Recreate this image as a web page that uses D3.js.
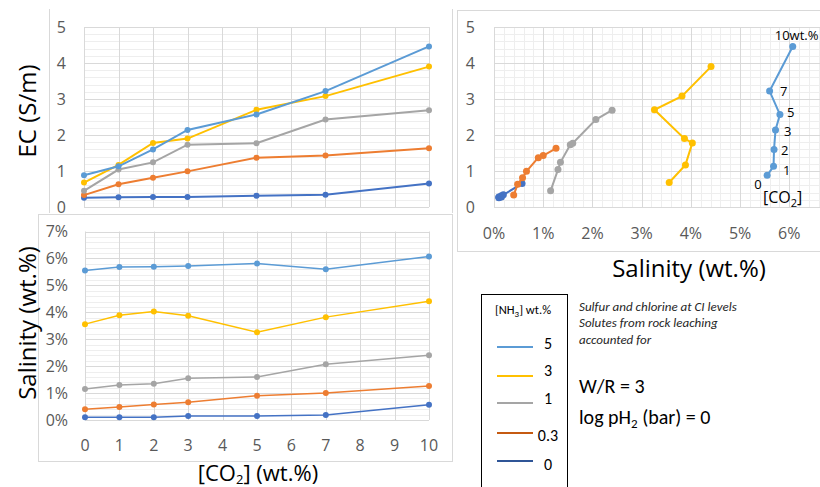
<!DOCTYPE html>
<html>
<head>
<meta charset="utf-8">
<script src="https://cdn.jsdelivr.net/npm/d3@7"></script>
<style>
body{margin:0;background:#fff;}
svg{display:block;font-family:"Open Sans","Noto Sans","DejaVu Sans",sans-serif;}
.cal{font-family:Calibri,Carlito,"Liberation Sans",sans-serif;}
</style>
</head>
<body>
<svg id="c" width="820" height="487"></svg>
<script>
// ---- data ----
const co2 = [0, 1, 2, 3, 5, 7, 10];
const nh3Levels = ["5", "3", "1", "0.3", "0"];
const colors = ["#5B9BD5", "#FFC000", "#A5A5A5", "#ED7D31", "#4472C4"];
const legendColors = ["#5B9BD5", "#FFC000", "#A5A5A5", "#C55A11", "#2F5597"];
// EC (S/m) per NH3 level
const ec5   = [0.88, 1.13, 1.60, 2.14, 2.57, 3.22, 4.46];
const ec3   = [0.68, 1.17, 1.78, 1.90, 2.70, 3.08, 3.90];
const ec1   = [0.45, 1.04, 1.24, 1.73, 1.77, 2.43, 2.69];
const ec03  = [0.33, 0.63, 0.81, 0.99, 1.37, 1.43, 1.63];
const ec0   = [0.26, 0.27, 0.28, 0.28, 0.31, 0.34, 0.65];
// Salinity (wt.%) per NH3 level
const sal5  = [5.55, 5.68, 5.69, 5.72, 5.81, 5.60, 6.07];
const sal3  = [3.56, 3.89, 4.03, 3.87, 3.26, 3.82, 4.41];
const sal1  = [1.15, 1.30, 1.35, 1.55, 1.60, 2.07, 2.40];
const sal03 = [0.40, 0.48, 0.58, 0.66, 0.90, 1.00, 1.26];
const sal0  = [0.10, 0.10, 0.10, 0.15, 0.15, 0.19, 0.57];
const ecSeries = [ec5, ec3, ec1, ec03, ec0];
const salSeries = [sal5, sal3, sal1, sal03, sal0];
const co2Labels = ["0", "1", "2", "3", "5", "7", "10wt.%"];
const ecTicks = [0, 1, 2, 3, 4, 5];
const salTicks = [0, 1, 2, 3, 4, 5, 6, 7];
const co2Ticks = [0, 1, 2, 3, 4, 5, 6, 7, 8, 9, 10];
const scatterXTicks = [0, 1, 2, 3, 4, 5, 6, 7];

const svg = d3.select("#c");
const GRID = "#d9d9d9", MINOR = "#eeeeee", TICKC = "#595959";

// ---- frames ----
svg.append("rect").attr("x", 38.5).attr("y", 214.5).attr("width", 414).attr("height", 247)
  .attr("fill", "#fff").attr("stroke", "#d9d9d9");
svg.append("rect").attr("x", 49.5).attr("y", 8).attr("width", 403).attr("height", 205).attr("fill", "#fff");
svg.append("line").attr("x1", 49.5).attr("x2", 49.5).attr("y1", 9).attr("y2", 213).attr("stroke", "#d9d9d9");
svg.append("line").attr("x1", 452.5).attr("x2", 452.5).attr("y1", 9).attr("y2", 213).attr("stroke", "#d9d9d9");
svg.append("rect").attr("x", 457.5).attr("y", 10.5).attr("width", 400).attr("height", 241)
  .attr("fill", "#fff").attr("stroke", "#d9d9d9");

// ---- helper for gridlines ----
function grid(g, x, y, xMajor, xMinor, yMajor, yMinor) {
  const [x0, x1] = x.range(), [y0, y1] = y.range();
  g.selectAll(null).data(yMinor).join("line").attr("x1", x0).attr("x2", x1)
    .attr("y1", d => Math.round(y(d)) + 0.5).attr("y2", d => Math.round(y(d)) + 0.5).attr("stroke", MINOR);
  g.selectAll(null).data(xMinor).join("line").attr("y1", y0).attr("y2", y1)
    .attr("x1", d => Math.round(x(d)) + 0.5).attr("x2", d => Math.round(x(d)) + 0.5).attr("stroke", MINOR);
  g.selectAll(null).data(yMajor).join("line").attr("x1", x0).attr("x2", x1)
    .attr("y1", d => Math.round(y(d)) + 0.5).attr("y2", d => Math.round(y(d)) + 0.5).attr("stroke", GRID);
  g.selectAll(null).data(xMajor).join("line").attr("y1", y0).attr("y2", y1)
    .attr("x1", d => Math.round(x(d)) + 0.5).attr("x2", d => Math.round(x(d)) + 0.5).attr("stroke", GRID);
}
function range(a, b, s) { const r = []; for (let v = a; v <= b + 1e-9; v += s) r.push(+v.toFixed(4)); return r; }

// ---- top-left: EC vs CO2 ----
{
  const x = d3.scaleLinear().domain([0, 10]).range([84, 429]);
  const y = d3.scaleLinear().domain([0, 5]).range([207, 27]);
  const g = svg.append("g");
  grid(g, x, y, co2Ticks, [], ecTicks, range(0, 5, 0.2));
  g.selectAll(null).data(ecTicks).join("text").attr("x", 66).attr("y", d => y(d))
    .attr("dy", "0.36em").attr("text-anchor", "end").attr("fill", TICKC).attr("font-size", 16).text(d => d);
  const line = d3.line().x((d, i) => x(co2[i])).y(d => y(d));
  ecSeries.slice().reverse().forEach((s, k) => {
    const i = ecSeries.length - 1 - k;
    g.append("path").attr("d", line(s)).attr("fill", "none").attr("stroke", colors[i]).attr("stroke-width", 2);
    g.selectAll(null).data(s).join("circle").attr("cx", (d, j) => x(co2[j])).attr("cy", d => y(d))
      .attr("r", 3).attr("fill", colors[i]);
  });
  svg.append("text").attr("transform", "translate(36,111) rotate(-90)").attr("text-anchor", "middle")
    .attr("font-size", 24).attr("fill", "#000").text("EC (S/m)");
}

// ---- bottom-left: Salinity vs CO2 ----
{
  const x = d3.scaleLinear().domain([0, 10]).range([85, 429]);
  const y = d3.scaleLinear().domain([0, 7]).range([420, 231.5]);
  const g = svg.append("g");
  grid(g, x, y, co2Ticks, [], salTicks, range(0, 7, 0.2));
  g.selectAll(null).data(salTicks).join("text").attr("x", 68).attr("y", d => y(d))
    .attr("dy", "0.36em").attr("text-anchor", "end").attr("fill", TICKC).attr("font-size", 16).text(d => d + "%");
  g.selectAll(null).data(co2Ticks).join("text").attr("x", d => x(d)).attr("y", 445)
    .attr("dy", "0.36em").attr("text-anchor", "middle").attr("fill", TICKC).attr("font-size", 16).text(d => d);
  const line = d3.line().x((d, i) => x(co2[i])).y(d => y(d));
  salSeries.slice().reverse().forEach((s, k) => {
    const i = salSeries.length - 1 - k;
    g.append("path").attr("d", line(s)).attr("fill", "none").attr("stroke", colors[i]).attr("stroke-width", 1.5);
    g.selectAll(null).data(s).join("circle").attr("cx", (d, j) => x(co2[j])).attr("cy", d => y(d))
      .attr("r", 3).attr("fill", colors[i]);
  });
  svg.append("text").attr("transform", "translate(36,323) rotate(-90)").attr("text-anchor", "middle")
    .attr("font-size", 24).attr("fill", "#000").text("Salinity (wt.%)");
  const t = svg.append("text").attr("x", 258).attr("y", 481).attr("text-anchor", "middle")
    .attr("font-size", 22).attr("fill", "#000");
  t.append("tspan").text("[CO");
  t.append("tspan").attr("font-size", 13).attr("dy", 3).text("2");
  t.append("tspan").attr("dy", -3).text("] (wt.%)");
}

// ---- top-right: EC vs Salinity ----
{
  const x = d3.scaleLinear().domain([0, 7]).range([494, 838.5]);
  const y = d3.scaleLinear().domain([0, 5]).range([207, 27]);
  const g = svg.append("g");
  grid(g, x, y, scatterXTicks, range(0, 7, 0.2), ecTicks, range(0, 5, 0.2));
  g.selectAll(null).data(ecTicks).join("text").attr("x", 475).attr("y", d => y(d))
    .attr("dy", "0.36em").attr("text-anchor", "end").attr("fill", TICKC).attr("font-size", 16).text(d => d);
  g.selectAll(null).data(scatterXTicks.slice(0, 7)).join("text").attr("x", d => x(d)).attr("y", 233)
    .attr("dy", "0.36em").attr("text-anchor", "middle").attr("fill", TICKC).attr("font-size", 16).text(d => d + "%");
  salSeries.slice().reverse().forEach((s, k) => {
    const i = salSeries.length - 1 - k;
    const pts = s.map((v, j) => [v, ecSeries[i][j]]);
    const line = d3.line().x(d => x(d[0])).y(d => y(d[1]));
    g.append("path").attr("d", line(pts)).attr("fill", "none").attr("stroke", colors[i]).attr("stroke-width", 2);
    g.selectAll(null).data(pts).join("circle").attr("cx", d => x(d[0])).attr("cy", d => y(d[1]))
      .attr("r", 3.5).attr("fill", colors[i]);
  });
  // CO2 annotations next to the 5 wt.% NH3 series
  const offs = [[-13, 9], [9.5, 4], [7, 1], [8.5, 1], [7, -2.5], [10.5, 0], [-18, -11]];
  g.selectAll(null).data(co2Labels).join("text")
    .attr("x", (d, j) => x(sal5[j]) + offs[j][0]).attr("y", (d, j) => y(ec5[j]) + offs[j][1])
    .attr("dy", "0.36em").attr("font-size", 13).attr("fill", "#000").text(d => d);
  const c = g.append("text").attr("x", 763).attr("y", 203).attr("font-size", 16).attr("fill", "#000");
  c.append("tspan").text("[CO");
  c.append("tspan").attr("font-size", 11).attr("dy", 4).text("2");
  c.append("tspan").attr("dy", -4).text("]");
  svg.append("text").attr("x", 689).attr("y", 277).attr("text-anchor", "middle")
    .attr("font-size", 24).attr("fill", "#000").text("Salinity (wt.%)");
}

// ---- legend ----
{
  const g = svg.append("g").attr("class", "cal");
  g.append("rect").attr("x", 481.5).attr("y", 294.5).attr("width", 86).attr("height", 200)
    .attr("fill", "#fff").attr("stroke", "#000").attr("stroke-width", 1);
  const t = g.append("text").attr("x", 523).attr("y", 314).attr("text-anchor", "middle").attr("font-size", 12.5).attr("fill", "#000");
  t.append("tspan").text("[NH");
  t.append("tspan").attr("font-size", 9).attr("dy", 3).text("3");
  t.append("tspan").attr("dy", -3).text("] wt.%");
  const lineY = [347, 376, 403, 433, 461];
  const textY = [343, 370, 398, 435, 464];
  nh3Levels.forEach((lv, i) => {
    g.append("line").attr("x1", 497).attr("x2", 533).attr("y1", lineY[i]).attr("y2", lineY[i])
      .attr("stroke", legendColors[i]).attr("stroke-width", 1.8);
    g.append("text").attr("x", 548).attr("y", textY[i]).attr("dy", "0.35em")
      .attr("text-anchor", "middle").attr("font-size", 16).attr("fill", "#000").text(lv);
  });
}

// ---- notes ----
{
  const g = svg.append("g").attr("class", "cal").attr("fill", "#262626");
  const notes = ["Sulfur and chlorine at CI levels", "Solutes from rock leaching", "accounted for"];
  g.selectAll(null).data(notes).join("text").attr("x", 579).attr("y", (d, i) => 306 + i * 16.5)
    .attr("dy", "0.35em").attr("font-size", 13).attr("font-style", "italic").text(d => d);
  g.append("text").attr("x", 579).attr("y", 386).attr("dy", "0.35em").attr("font-size", 20).attr("fill", "#000").text("W/R = 3");
  const p = g.append("text").attr("x", 579).attr("y", 417).attr("dy", "0.35em").attr("font-size", 20).attr("fill", "#000");
  p.append("tspan").text("log pH");
  p.append("tspan").attr("font-size", 13).attr("dy", 4).text("2");
  p.append("tspan").attr("dy", -4).text(" (bar) = 0");
}
</script>
</body>
</html>
